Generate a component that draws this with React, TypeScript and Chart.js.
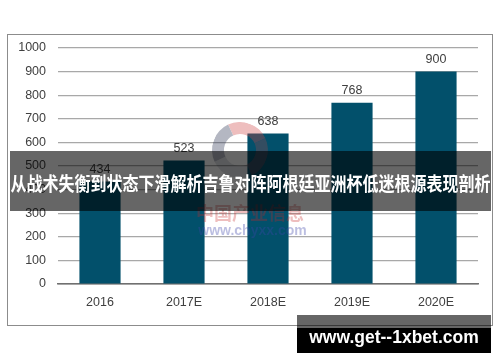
import React, { useEffect, useRef } from "react";
import { Chart, registerables } from "chart.js";

Chart.register(...registerables);

const categories = ["2016", "2017E", "2018E", "2019E", "2020E"];
const values = [434, 523, 638, 768, 900];
const yTicks = [0, 100, 200, 300, 400, 500, 600, 700, 800, 900, 1000];
const bannerText = "从战术失衡到状态下滑解析吉鲁对阵阿根廷亚洲杯低迷根源表现剖析";
const siteText = "www.get--1xbet.com";
const watermarkCn = "中国产业信息";
const watermarkUrl = "www.chyxx.com";

const valueLabels = {
  id: "valueLabels",
  afterDatasetsDraw(chart: any) {
    const { ctx } = chart;
    const meta = chart.getDatasetMeta(0);
    ctx.save();
    ctx.font = "12.5px 'Liberation Sans', Arial, sans-serif";
    ctx.fillStyle = "#404040";
    ctx.textAlign = "center";
    ctx.textBaseline = "bottom";
    meta.data.forEach((bar: any, i: number) => {
      ctx.fillText(String(values[i]), bar.x, bar.y - 6);
    });
    ctx.restore();
  },
};

export default function App() {
  const ref = useRef<HTMLCanvasElement | null>(null);
  useEffect(() => {
    if (!ref.current) return;
    const chart = new Chart(ref.current, {
      type: "bar",
      data: {
        labels: categories,
        datasets: [
          {
            data: values,
            backgroundColor: "#02506B",
            borderWidth: 0,
            categoryPercentage: 1,
            barPercentage: 0.49,
          },
        ],
      },
      options: {
        animation: false,
        responsive: false,
        maintainAspectRatio: false,
        devicePixelRatio: 1,
        layout: { padding: { left: 0, right: 22, top: 48, bottom: 48 } },
        plugins: { legend: { display: false }, tooltip: { enabled: false }, title: { display: false } },
        scales: {
          x: {
            grid: { display: false, drawTicks: false },
            border: { display: true, color: "#707070", width: 1.5 },
            ticks: {
              color: "#404040",
              font: { size: 12.5, family: "'Liberation Sans', Arial, sans-serif" },
              padding: 11,
            },
            afterFit: (s: any) => {
              s.height = 30;
            },
          },
          y: {
            min: 0,
            max: 1000,
            afterBuildTicks: (s: any) => {
              s.ticks = yTicks.map((v) => ({ value: v }));
            },
            grid: {
              drawTicks: false,
              color: (c: any) => (c.tick && c.tick.value === 0 ? "#707070" : "#a8a8a8"),
              lineWidth: 1.2,
            },
            border: { display: false },
            ticks: {
              color: "#404040",
              font: { size: 12.5, family: "'Liberation Sans', Arial, sans-serif" },
              padding: 12,
              callback: (v: any) => String(v),
            },
            afterFit: (s: any) => {
              s.width = 58;
            },
          },
        },
      },
      plugins: [valueLabels],
    });
    return () => chart.destroy();
  }, []);

  return (
    <div
      style={{
        position: "fixed",
        left: 0,
        top: 0,
        width: 500,
        height: 362,
        background: "#fff",
        overflow: "hidden",
        fontFamily: "'Liberation Sans', Arial, sans-serif",
      }}
    >
      <div
        style={{
          position: "absolute",
          left: 7,
          top: 34,
          width: 484,
          height: 290,
          border: "1px solid #8c8c8c",
        }}
      />
      <canvas ref={ref} width={500} height={362} style={{ position: "absolute", left: 0, top: 0, width: 500, height: 362 }} />
      {/* watermark */}
      <div
        style={{
          position: "absolute",
          left: 212,
          top: 122,
          width: 32,
          height: 32,
          borderRadius: "50%",
          borderStyle: "solid",
          borderWidth: 12,
          borderTopColor: "rgba(205,70,70,0.35)",
          borderRightColor: "rgba(205,70,70,0.25)",
          borderLeftColor: "rgba(40,50,80,0.35)",
          borderBottomColor: "rgba(40,50,80,0.15)",
          transform: "rotate(20deg)",
        }}
      />
      <div
        style={{
          position: "absolute",
          left: 194,
          top: 201,
          width: 112,
          textAlign: "center",
          fontFamily: "'Noto Sans CJK SC', sans-serif",
          fontWeight: 700,
          fontSize: 18,
          lineHeight: "22px",
          color: "rgba(200,40,40,0.3)",
          whiteSpace: "nowrap",
        }}
      >
        {watermarkCn}
      </div>
      <div
        style={{
          position: "absolute",
          left: 190,
          top: 222,
          width: 125,
          textAlign: "center",
          fontWeight: 700,
          fontSize: 14,
          lineHeight: "16px",
          color: "rgba(60,70,170,0.35)",
          whiteSpace: "nowrap",
        }}
      >
        {watermarkUrl}
      </div>
      {/* banner */}
      <div
        style={{
          position: "absolute",
          left: 10,
          top: 151,
          width: 481,
          height: 60,
          background: "rgba(0,0,0,0.6)",
          display: "flex",
          alignItems: "center",
          justifyContent: "center",
        }}
      >
        <span
          style={{
            color: "#fff",
            fontFamily: "'Noto Sans CJK SC', sans-serif",
            fontWeight: 700,
            fontSize: 16,
            whiteSpace: "nowrap",
            display: "inline-block",
            transform: "translateY(2px) scaleY(1.2)",
          }}
        >
          {bannerText}
        </span>
      </div>
      {/* site box */}
      <div
        style={{
          position: "absolute",
          left: 297,
          top: 315,
          width: 194,
          height: 13,
          background: "rgba(0,0,0,0.6)",
        }}
      />
      <div
        style={{
          position: "absolute",
          left: 297,
          top: 328,
          width: 194,
          height: 25,
          background: "#000",
        }}
      />
      <div
        style={{
          position: "absolute",
          left: 297,
          top: 322,
          width: 194,
          height: 30,
          lineHeight: "30px",
          textAlign: "center",
          color: "#fff",
          fontWeight: 700,
          fontSize: 17.5,
          whiteSpace: "nowrap",
        }}
      >
        {siteText}
      </div>
    </div>
  );
}
